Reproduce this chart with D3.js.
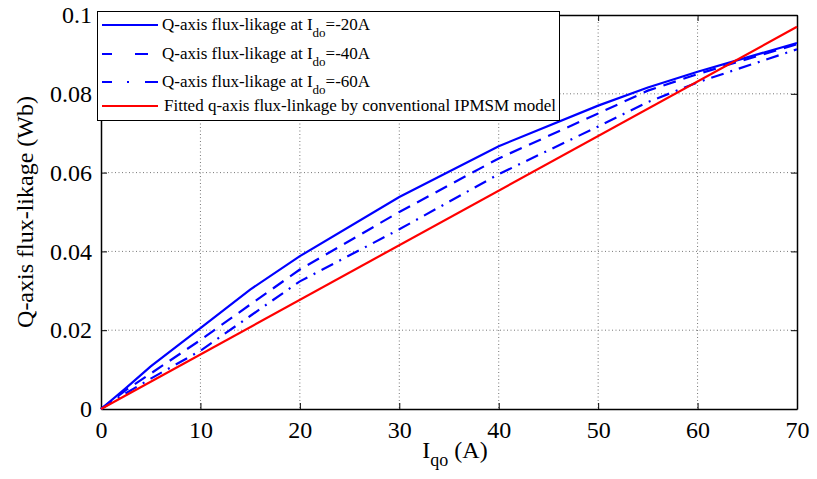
<!DOCTYPE html>
<html>
<head>
<meta charset="utf-8">
<script src="https://cdn.jsdelivr.net/npm/d3@7"></script>
<style>
  html, body { margin: 0; padding: 0; background: #fff; }
  svg { display: block; font-family: "Liberation Serif", "Times New Roman", serif; }
</style>
</head>
<body>
<div id="chart"></div>
<script>
// Q-axis flux linkage vs q-axis current
const amps = [0, 2.5, 5, 10, 15, 20, 30, 40, 50, 55, 60, 70];
const psiId20 = [0, 0.0053, 0.0108, 0.0205, 0.0303, 0.0388, 0.0538, 0.0667, 0.0770, 0.0816, 0.0856, 0.0929];
const psiId40 = [0, 0.0048, 0.0090, 0.0175, 0.0265, 0.0354, 0.0500, 0.0636, 0.0750, 0.0808, 0.0850, 0.0926];
const psiId60 = [0, 0.0040, 0.0077, 0.0148, 0.0236, 0.0324, 0.0456, 0.0596, 0.0717, 0.0779, 0.0829, 0.0913];
const ampsFit = [0, 70];
const psiFit = [0, 0.0970];

const xTicks = [0, 10, 20, 30, 40, 50, 60, 70];
const yTicks = [0, 0.02, 0.04, 0.06, 0.08, 0.1];
const yTickLabels = ['0', '0.02', '0.04', '0.06', '0.08', '0.1'];

const series = [
  { name: 'Q-axis flux-likage at I', sub: 'do', tail: '=-20A', x: amps, y: psiId20, color: '#0000ff', dash: null, legDash: null },
  { name: 'Q-axis flux-likage at I', sub: 'do', tail: '=-40A', x: amps, y: psiId40, color: '#0000ff', dash: '13,8', legDash: '10,23,13,100' },
  { name: 'Q-axis flux-likage at I', sub: 'do', tail: '=-60A', x: amps, y: psiId60, color: '#0000ff', dash: '13,7,2,7', legDash: '10,15,2,16,15' },
  { name: 'Fitted q-axis flux-linkage by conventional IPMSM model', sub: null, tail: '', x: ampsFit, y: psiFit, color: '#ff0000', dash: null, legDash: null },
];

const W = 817, H = 479;
const m = { left: 101, top: 15, right: 20, bottom: 70 };
const iw = W - m.left - m.right, ih = H - m.top - m.bottom;

const svg = d3.select('#chart').append('svg').attr('width', W).attr('height', H);
const g = svg.append('g').attr('transform', `translate(${m.left},${m.top})`);

const x = d3.scaleLinear().domain([0, 70]).range([0, iw]);
const y = d3.scaleLinear().domain([0, 0.1]).range([ih, 0]);

// grid
g.append('g').selectAll('line').data(xTicks.slice(1, -1)).join('line')
  .attr('x1', d => x(d)).attr('x2', d => x(d)).attr('y1', 0).attr('y2', ih)
  .attr('stroke', '#777').attr('stroke-width', 1).attr('stroke-dasharray', '1,2.5');
g.append('g').selectAll('line').data(yTicks.slice(1, -1)).join('line')
  .attr('y1', d => y(d)).attr('y2', d => y(d)).attr('x1', 0).attr('x2', iw)
  .attr('stroke', '#777').attr('stroke-width', 1).attr('stroke-dasharray', '1,2.5');

// axes (inward ticks on all sides)
const tk = 6;
const xb = g.append('g').attr('transform', `translate(0,${ih})`)
  .call(d3.axisBottom(x).tickValues(xTicks).tickSizeInner(-tk).tickSizeOuter(0).tickPadding(12));
const xt = g.append('g')
  .call(d3.axisTop(x).tickValues(xTicks).tickSizeInner(-tk).tickSizeOuter(0).tickFormat(''));
const yl = g.append('g')
  .call(d3.axisLeft(y).tickValues(yTicks).tickSizeInner(-tk).tickSizeOuter(0).tickPadding(9)
    .tickFormat((d, i) => yTickLabels[i]));
const yr = g.append('g').attr('transform', `translate(${iw},0)`)
  .call(d3.axisRight(y).tickValues(yTicks).tickSizeInner(-tk).tickSizeOuter(0).tickFormat(''));
[xb, xt, yl, yr].forEach(a => {
  a.select('.domain').attr('stroke', '#000').attr('stroke-width', 1.5);
  a.selectAll('.tick line').attr('stroke', '#000');
  a.selectAll('text').attr('font-size', 24).attr('fill', '#000')
    .attr('font-family', '"Liberation Serif", "Times New Roman", serif');
});

// lines
const line = d3.line().x(d => x(d[0])).y(d => y(d[1]));
series.forEach(s => {
  g.append('path').datum(s.x.map((v, i) => [v, s.y[i]]))
    .attr('d', line).attr('fill', 'none').attr('stroke', s.color)
    .attr('stroke-width', 2.2).attr('stroke-dasharray', s.dash);
});

// axis labels
const xl = svg.append('text').attr('x', 455).attr('y', 458).attr('text-anchor', 'middle')
  .attr('font-size', 24).attr('fill', '#000');
xl.append('tspan').text('I');
xl.append('tspan').attr('dy', 8).attr('font-size', 18).text('qo');
xl.append('tspan').attr('dy', -8).text(' (A)');

svg.append('text').attr('transform', `translate(33,${m.top + ih / 2}) rotate(-90)`)
  .attr('text-anchor', 'middle').attr('font-size', 24).attr('fill', '#000')
  .text('Q-axis flux-likage (Wb)');

// legend
const lg = svg.append('g');
lg.append('rect').attr('x', 97.5).attr('y', 11.5).attr('width', 462).attr('height', 109)
  .attr('fill', '#fff').attr('stroke', '#000').attr('stroke-width', 1);
const rowsY = [25, 54, 82, 106];
series.forEach((s, i) => {
  const ry = rowsY[i];
  lg.append('line').attr('x1', 102).attr('x2', 158).attr('y1', ry).attr('y2', ry)
    .attr('stroke', s.color).attr('stroke-width', 2.2).attr('stroke-dasharray', s.legDash);
  const t = lg.append('text').attr('x', s.sub ? 162 : 164).attr('y', ry + 5)
    .attr('font-size', 17).attr('fill', '#000');
  t.append('tspan').text(s.name);
  if (s.sub) {
    t.append('tspan').attr('dy', 7).attr('font-size', 13).text(s.sub);
    t.append('tspan').attr('dy', -7).text(s.tail);
  }
});
</script>
</body>
</html>
